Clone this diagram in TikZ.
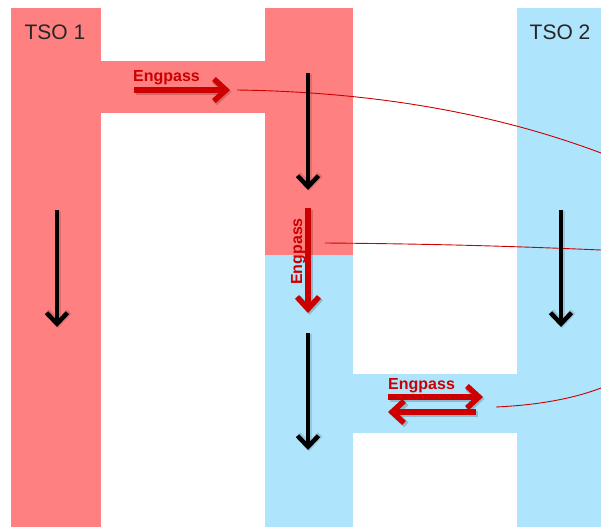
\documentclass[tikz,border=0pt]{standalone}
\usepackage{fontspec}
\setmainfont{Liberation Sans}
\usetikzlibrary{arrows.meta}
\definecolor{tsopink}{RGB}{255,128,128}
\definecolor{tsoblue}{RGB}{174,228,252}
\definecolor{engred}{RGB}{204,0,0}
\tikzset{
  pinkarea/.style={fill=tsopink,draw=none},
  bluearea/.style={fill=tsoblue,draw=none},
  flowarrow/.style={draw=black,line width=4.5pt,-{Straight Barb[length=11pt,width=21pt,line width=4.5pt]}},
  engarrow/.style={draw=engred,line width=5.5pt,-{Straight Barb[length=12pt,width=22pt,line width=5.5pt]}},
  shadowarrow/.style={draw=black,opacity=0.18,line width=6.5pt,-{Straight Barb[length=12pt,width=22pt,line width=6.5pt]}},
  englabel/.style={text=engred,font=\bfseries\fontsize{16}{16}\selectfont,inner sep=0pt},
  tsolabel/.style={text=black!85,font=\fontsize{21}{21}\selectfont,inner sep=0pt},
  linkline/.style={draw=engred,line width=0.9pt}
}
\begin{document}
\begin{tikzpicture}[x=1pt,y=-1pt]
\useasboundingbox (0,0) rectangle (601,527);
% areas
\fill[pinkarea] (11,8) rectangle (101,527);
\fill[pinkarea] (100,61) rectangle (266,113);
\fill[pinkarea] (265,8) rectangle (353,255);
\fill[bluearea] (265,255) rectangle (353,527);
\fill[bluearea] (352,374) rectangle (518,433);
\fill[bluearea] (517,8) rectangle (601,527);
% labels
\node[tsolabel] (tso1) at (55,32) {TSO 1};
\node[tsolabel] (tso2) at (560,32) {TSO 2};
% coordinates
\coordinate (a1s) at (57,210); \coordinate (a1e) at (57,327);
\coordinate (a2s) at (308,73); \coordinate (a2e) at (308,190);
\coordinate (a3s) at (308,333); \coordinate (a3e) at (308,450);
\coordinate (a4s) at (561,210); \coordinate (a4e) at (561,327);
\coordinate (e1s) at (134,90); \coordinate (e1e) at (230,90);
\coordinate (e2s) at (308,208); \coordinate (e2e) at (308,313);
\coordinate (e3s) at (388,397); \coordinate (e3e) at (483,397);
\coordinate (e4s) at (476,412); \coordinate (e4e) at (388,412);
\coordinate (l1s) at (237,90); \coordinate (l1e) at (601,153);
\coordinate (l2s) at (325,243); \coordinate (l2e) at (601,250);
\coordinate (l3s) at (496,407); \coordinate (l3e) at (601,388);
% link lines
\draw[linkline] (l1s) .. controls (380,92) and (500,115) .. (l1e);
\draw[linkline] (l2s) .. controls (450,244) and (530,247) .. (l2e);
\draw[linkline] (l3s) .. controls (540,405) and (575,398) .. (l3e);
% black flow arrows (shadow + arrow)
\foreach \s/\e in {a1s/a1e,a2s/a2e,a3s/a3e,a4s/a4e}{
  \draw[shadowarrow,opacity=0.12,transform canvas={shift={(1.2pt,-1.2pt)}}] (\s) -- (\e);
  \draw[flowarrow] (\s) -- (\e);
}
% red Engpass arrows
\foreach \s/\e in {e1s/e1e,e2s/e2e,e3s/e3e,e4s/e4e}{
  \draw[shadowarrow,transform canvas={shift={(1.5pt,-1.8pt)}}] (\s) -- (\e);
  \draw[engarrow] (\s) -- (\e);
}
% Engpass labels
\node[englabel,anchor=base west] (eng1) at (133,81) {Engpass};
\node[englabel,anchor=base west,rotate=90] (eng2) at (302,285) {Engpass};
\node[englabel,anchor=base west] (eng3) at (388,389) {Engpass};
\end{tikzpicture}
\end{document}
